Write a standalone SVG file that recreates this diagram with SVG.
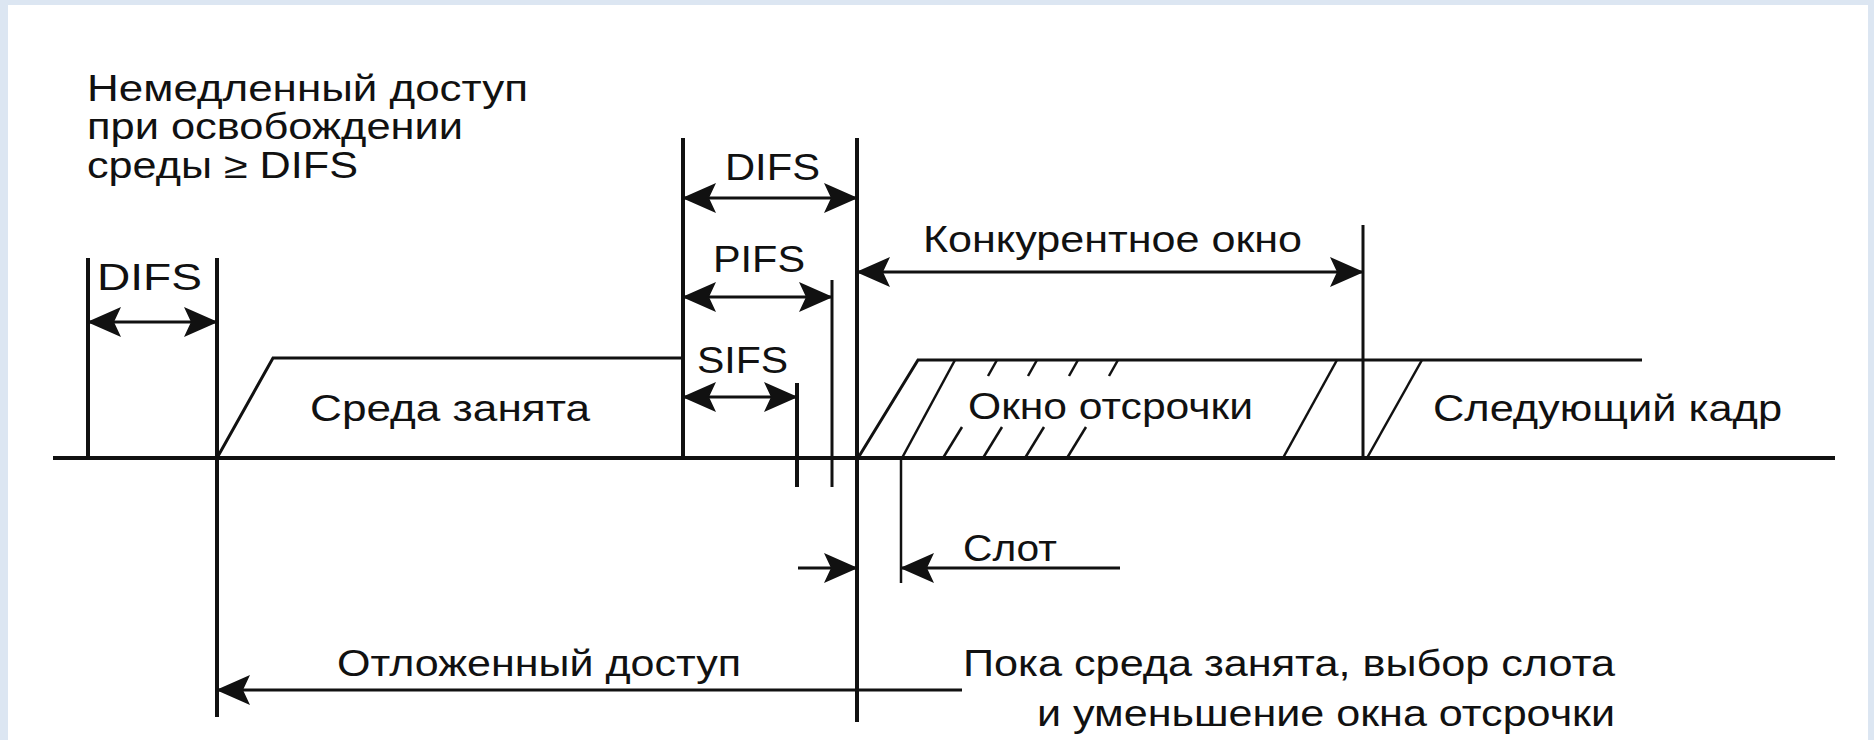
<svg xmlns="http://www.w3.org/2000/svg" width="1874" height="740" viewBox="0 0 1874 740">
<style>
  .t { font-family: "Liberation Sans", Arial, sans-serif; font-size: 36px; fill: #111; }
  .ln { stroke: #111; fill: none; stroke-linecap: butt; }
  .thick { stroke-width: 4; }
  .mid { stroke-width: 3; }
  .thin { stroke-width: 2.5; }
  .arr { stroke: #111; stroke-width: 3; fill: none; }
</style>
<defs>
  <marker id="ah" viewBox="0 -15 34 30" refX="33" refY="0" markerWidth="34" markerHeight="30" markerUnits="userSpaceOnUse" orient="auto-start-reverse">
    <path d="M0,-15 L34,0 L0,15 L7,0 Z" fill="#111"/>
  </marker>
</defs>
<rect x="0" y="0" width="1874" height="740" fill="#dce6f2"/>
<rect x="8" y="5" width="1860" height="735" fill="#ffffff"/>

<g id="note-immediate">
  <text class="t" x="87" y="101" textLength="441" lengthAdjust="spacingAndGlyphs">Немедленный доступ</text>
  <text class="t" x="87" y="139" textLength="376" lengthAdjust="spacingAndGlyphs">при освобождении</text>
  <text class="t" x="87" y="178" textLength="271" lengthAdjust="spacingAndGlyphs">среды ≥ DIFS</text>
</g>

<g id="timeline">
  <line class="ln thick" x1="53" y1="458" x2="1835" y2="458"/>
</g>

<g id="difs-left">
  <line class="ln thick" x1="88" y1="258" x2="88" y2="458"/>
  <line class="ln thick" x1="217" y1="258" x2="217" y2="717"/>
  <text class="t" x="97" y="290" textLength="105" lengthAdjust="spacingAndGlyphs">DIFS</text>
</g>

<g id="busy-medium">
  <polyline class="ln mid" points="217,458 273,358 683,358"/>
  <text class="t" x="310" y="421" textLength="280" lengthAdjust="spacingAndGlyphs">Среда занята</text>
</g>

<g id="ifs-group">
  <line class="ln thick" x1="683" y1="138" x2="683" y2="458"/>
  <line class="ln thick" x1="857" y1="138" x2="857" y2="722"/>
  <line class="ln mid" x1="832" y1="280" x2="832" y2="487"/>
  <line class="ln thick" x1="797" y1="383" x2="797" y2="487"/>
  <text class="t" x="725" y="180" textLength="95" lengthAdjust="spacingAndGlyphs">DIFS</text>
  <text class="t" x="713" y="272" textLength="92" lengthAdjust="spacingAndGlyphs">PIFS</text>
  <text class="t" x="697" y="373" textLength="91" lengthAdjust="spacingAndGlyphs">SIFS</text>
</g>

<g id="contention-window">
  <line class="ln mid" x1="1363" y1="225" x2="1363" y2="458"/>
  <text class="t" x="923" y="252" textLength="379" lengthAdjust="spacingAndGlyphs">Конкурентное окно</text>
</g>

<g id="backoff-window">
  <polyline class="ln mid" points="858,458 918,360 1642,360"/>
  <line class="ln thin" x1="902" y1="458" x2="955" y2="360"/>
  <line class="ln thin" x1="943" y1="458" x2="962" y2="427"/>
  <line class="ln thin" x1="983" y1="458" x2="1002" y2="427"/>
  <line class="ln thin" x1="1025" y1="458" x2="1044" y2="427"/>
  <line class="ln thin" x1="1067" y1="458" x2="1086" y2="427"/>
  <line class="ln thin" x1="988" y1="376" x2="997" y2="360"/>
  <line class="ln thin" x1="1028" y1="376" x2="1037" y2="360"/>
  <line class="ln thin" x1="1069" y1="376" x2="1078" y2="360"/>
  <line class="ln thin" x1="1109" y1="376" x2="1118" y2="360"/>
  <line class="ln thin" x1="1283" y1="458" x2="1337" y2="360"/>
  <text class="t" x="968" y="419" textLength="285" lengthAdjust="spacingAndGlyphs">Окно отсрочки</text>
</g>

<g id="next-frame">
  <line class="ln thin" x1="1367" y1="458" x2="1422" y2="360"/>
  <text class="t" x="1433" y="421" textLength="349" lengthAdjust="spacingAndGlyphs">Следующий кадр</text>
</g>

<g id="slot">
  <line class="ln thin" x1="901" y1="458" x2="901" y2="583"/>
  <text class="t" x="963" y="561" textLength="94" lengthAdjust="spacingAndGlyphs">Слот</text>
</g>

<g id="deferred-access">
  <text class="t" x="337" y="676" textLength="404" lengthAdjust="spacingAndGlyphs">Отложенный доступ</text>
</g>

<g id="note-busy">
  <text class="t" x="963" y="676" textLength="652" lengthAdjust="spacingAndGlyphs">Пока среда занята, выбор слота</text>
  <text class="t" x="1037" y="726" textLength="578" lengthAdjust="spacingAndGlyphs">и уменьшение окна отсрочки</text>
</g>

<g id="connectors">
  <line class="arr" x1="88" y1="322" x2="217" y2="322" marker-start="url(#ah)" marker-end="url(#ah)"/>
  <line class="arr" x1="683" y1="198" x2="857" y2="198" marker-start="url(#ah)" marker-end="url(#ah)"/>
  <line class="arr" x1="683" y1="297" x2="832" y2="297" marker-start="url(#ah)" marker-end="url(#ah)"/>
  <line class="arr" x1="683" y1="397" x2="797" y2="397" marker-start="url(#ah)" marker-end="url(#ah)"/>
  <line class="arr" x1="857" y1="272" x2="1363" y2="272" marker-start="url(#ah)" marker-end="url(#ah)"/>
  <line class="arr" x1="798" y1="568" x2="857" y2="568" marker-end="url(#ah)"/>
  <line class="arr" x1="1120" y1="568" x2="901" y2="568" marker-end="url(#ah)"/>
  <line class="arr" x1="962" y1="690" x2="217" y2="690" marker-end="url(#ah)"/>
</g>
</svg>
